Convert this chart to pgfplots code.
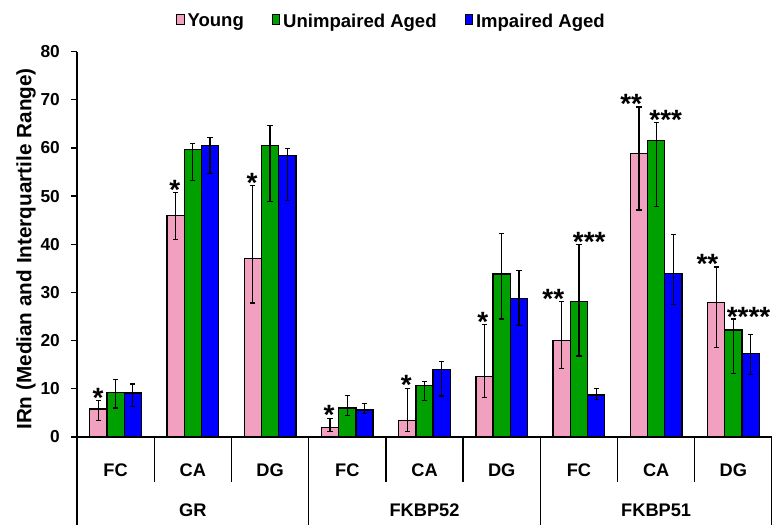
\documentclass[border=0pt]{standalone}
\usepackage{pgfplots}
\pgfplotsset{compat=1.18}
\usepackage{pgfplotstable}
\usepackage{fontspec}
\setmainfont{Liberation Sans}
\definecolor{cyoung}{RGB}{242,160,192}
\definecolor{cunimp}{RGB}{0,160,0}
\definecolor{cimp}{RGB}{0,0,255}

\pgfplotstableread{
x y ep em
0 5.8 1.7 2.3
1 45.9 4.9 4.9
2 37.1 15.1 9.3
3 1.9 2.0 0.8
4 3.4 6.6 2.2
5 12.5 10.9 4.3
6 20.0 8.1 5.8
7 58.8 9.7 11.7
8 27.9 7.4 9.4
}\young
\pgfplotstableread{
x y ep em
0 9.3 2.7 3.3
1 59.6 1.3 6.4
2 60.5 4.2 11.6
3 6.0 2.6 1.6
4 10.7 0.8 3.2
5 33.8 8.4 9.3
6 28.1 11.8 11.3
7 61.5 3.8 13.7
8 22.2 2.3 9.0
}\unimp
\pgfplotstableread{
x y ep em
0 9.1 1.9 2.8
1 60.5 1.6 5.8
2 58.4 1.4 9.3
3 5.6 1.4 0.7
4 14.0 1.6 5.5
5 28.7 5.9 5.6
6 8.7 1.3 0.9
7 34.0 8.1 6.5
8 17.4 3.8 4.5
}\impaired

\begin{document}
\begin{tikzpicture}[star/.style={font=\fontsize{28}{28}\selectfont\bfseries, anchor=base, inner sep=0pt, yshift=-16bp}]
\useasboundingbox (0,0) rectangle (772bp,525bp);
\begin{axis}[
  at={(77bp,88bp)}, anchor=south west,
  scale only axis, width=695bp, height=385.5bp,
  xmin=-0.5, xmax=8.5, ymin=0, ymax=80,
  clip=false,
  ybar=0pt, bar width=17.2bp,
  axis x line=bottom, axis y line=left,
  axis line style={-, line width=1.3bp, black},
  ytick={0,10,...,80},
  tick align=outside, major tick length=5.5bp,
  ytick style={line width=1.3bp, black},
  xtick={0,...,8},
  xticklabels={FC,CA,DG,FC,CA,DG,FC,CA,DG},
  xtick style={draw=none},
  xticklabel style={anchor=center, yshift=-28bp, font=\fontsize{18.3}{18.3}\selectfont\bfseries},
  yticklabel style={font=\fontsize{17.4}{17.4}\selectfont\bfseries, anchor=east, inner sep=0pt, xshift=-11.5bp},
  /pgf/number format/assume math mode=true,
  ylabel={IRn (Median and Interquartile Range)},
  ylabel style={at={(axis description cs:-0.0734,0.4877)}, anchor=center, font=\fontsize{20.8}{20.8}\selectfont\bfseries},
  legend columns=3,
  legend style={at={(axis description cs:0.1424,1.079)}, anchor=west, draw=none, fill=none, inner sep=0pt,
    font=\fontsize{18.6}{18.6}\selectfont\bfseries,
    nodes={inner sep=0pt},
    column sep=3bp,
    /tikz/every even column/.append style={column sep=28bp}},
  every axis plot/.append style={
    error bars/y dir=both, error bars/y explicit,
    error bars/error bar style={line width=1.2bp, black},
    error bars/error mark options={rotate=90, mark size=2.6bp, line width=1.2bp, black}},
  every axis plot post/.append style={draw=black, line width=1.3bp},
]
\addplot[fill=cyoung, legend image code/.code={\draw[fill=cyoung,draw=black,line width=0.9bp] (0bp,-3.4bp) rectangle (7.5bp,6.6bp);}]
  table[x=x, y=y, y error plus=ep, y error minus=em]{\young};
\addlegendentry{Young}
\addplot[fill=cunimp, legend image code/.code={\draw[fill=cunimp,draw=black,line width=0.9bp] (0bp,-3.4bp) rectangle (7.5bp,6.6bp);}]
  table[x=x, y=y, y error plus=ep, y error minus=em]{\unimp};
\addlegendentry{Unimpaired Aged}
\addplot[fill=cimp, legend image code/.code={\draw[fill=cimp,draw=black,line width=0.9bp] (0bp,-3.4bp) rectangle (7.5bp,6.6bp);}]
  table[x=x, y=y, y error plus=ep, y error minus=em]{\impaired};
\addlegendentry{Impaired Aged}

% table-like separators below the axis
\draw[line width=1.3bp] (axis cs:-0.5,0) -- (axis cs:-0.5,-19);
\draw[line width=1.3bp] (axis cs:2.5,0) -- (axis cs:2.5,-19);
\draw[line width=1.3bp] (axis cs:5.5,0) -- (axis cs:5.5,-19);
\draw[line width=1.3bp] (axis cs:8.5,0) -- (axis cs:8.5,-19);
\draw[line width=1.3bp] (axis cs:0.5,0) -- (axis cs:0.5,-9.28);
\draw[line width=1.3bp] (axis cs:1.5,0) -- (axis cs:1.5,-9.28);
\draw[line width=1.3bp] (axis cs:3.5,0) -- (axis cs:3.5,-9.28);
\draw[line width=1.3bp] (axis cs:4.5,0) -- (axis cs:4.5,-9.28);
\draw[line width=1.3bp] (axis cs:6.5,0) -- (axis cs:6.5,-9.28);
\draw[line width=1.3bp] (axis cs:7.5,0) -- (axis cs:7.5,-9.28);
\node[font=\fontsize{18.3}{18.3}\selectfont\bfseries] at (axis cs:1,-15.15) {GR};
\node[font=\fontsize{18.3}{18.3}\selectfont\bfseries] at (axis cs:4,-15.15) {FKBP52};
\node[font=\fontsize{18.3}{18.3}\selectfont\bfseries] at (axis cs:7,-15.15) {FKBP51};

% significance marks
\node[star] at (axis cs:-0.228,9.40) {*};
\node[star] at (axis cs:0.768,52.65) {*};
\node[star] at (axis cs:1.768,54.0) {*};
\node[star] at (axis cs:2.764,5.96) {*};
\node[star] at (axis cs:3.765,12.04) {*};
\node[star] at (axis cs:4.756,25.17) {*};
\node[star] at (axis cs:5.668,30.03) {**};
\node[star] at (axis cs:6.133,41.77) {***};
\node[star] at (axis cs:6.676,70.41) {**};
\node[star] at (axis cs:7.124,67.17) {***};
\node[star] at (axis cs:7.663,37.29) {**};
\node[star] at (axis cs:8.197,26.35) {****};
\end{axis}
\end{tikzpicture}
\end{document}
